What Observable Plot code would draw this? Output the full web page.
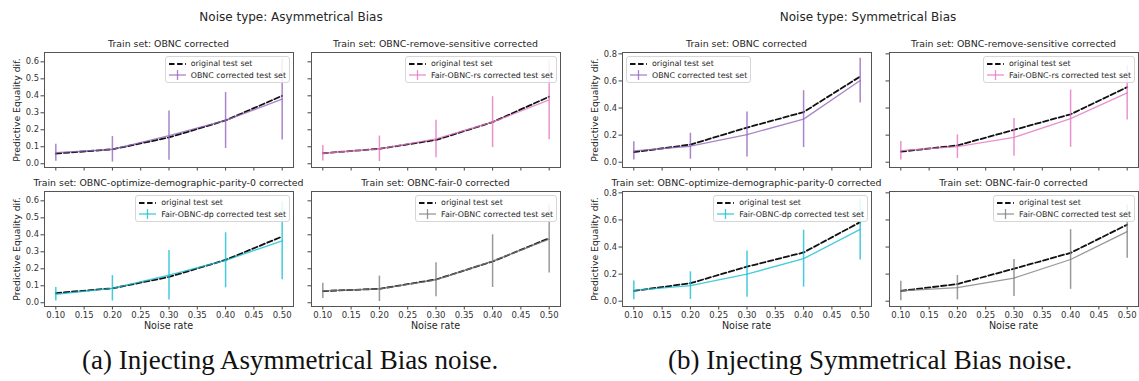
<!DOCTYPE html>
<html>
<head>
<meta charset="utf-8">
<script src="https://cdn.jsdelivr.net/npm/d3@7"></script>
<script src="https://cdn.jsdelivr.net/npm/@observablehq/plot@0.6"></script>
<style>
  body { margin: 0; background: #fff; }
  #root { position: relative; width: 1139px; height: 381px; overflow: hidden; font-family: "DejaVu Sans", sans-serif; color: #262626; }
  .abs { position: absolute; white-space: nowrap; }
  .legend { position: absolute; background: rgba(255,255,255,0.85); border: 1px solid #d6d6d6; border-radius: 3px; padding: 1px 3px 1px 3px; font-size: 7.9px; line-height: 11.5px; white-space: nowrap; }
  .legend .row { display: flex; align-items: center; }
  .legend svg { margin-right: 5px; }
  .cap { position: absolute; font-family: "Liberation Serif", "DejaVu Serif", serif; font-size: 27px; line-height: 27px; color: #111; white-space: nowrap; }
</style>
</head>
<body>
<div id="root"></div>
<script>
// ---------------- data ----------------
const noiseRates = [0.10, 0.20, 0.30, 0.40, 0.50];
const xTicks = [0.10, 0.15, 0.20, 0.25, 0.30, 0.35, 0.40, 0.45, 0.50];
const yTicksAsym = [0.0, 0.1, 0.2, 0.3, 0.4, 0.5, 0.6];
const yTicksSym = [0.0, 0.2, 0.4, 0.6, 0.8];

const groupTitles = ["Noise type: Asymmetrical Bias", "Noise type: Symmetrical Bias"];
const captions = ["(a) Injecting Asymmetrical Bias noise.", "(b) Injecting Symmetrical Bias noise."];
const panelTitles = [
  "Train set: OBNC corrected",
  "Train set: OBNC-remove-sensitive corrected",
  "Train set: OBNC-optimize-demographic-parity-0 corrected",
  "Train set: OBNC-fair-0 corrected"
];
const seriesNames = [
  "OBNC corrected test set",
  "Fair-OBNC-rs corrected test set",
  "Fair-OBNC-dp corrected test set",
  "Fair-OBNC corrected test set"
];
const originalName = "original test set";
const seriesColors = ["#9467bd", "#e377c2", "#17becf", "#7f7f7f"];

// Asymmetrical Bias
const origA_obnc = [0.060, 0.085, 0.155, 0.255, 0.400];
const corrA_obnc = [0.065, 0.085, 0.165, 0.255, 0.380];
const errA_obnc  = [0.050, 0.075, 0.145, 0.165, 0.240];
const origA_rs   = [0.062, 0.088, 0.140, 0.245, 0.395];
const corrA_rs   = [0.062, 0.088, 0.146, 0.245, 0.376];
const errA_rs    = [0.045, 0.075, 0.110, 0.150, 0.235];
const origA_dp   = [0.057, 0.085, 0.152, 0.252, 0.390];
const corrA_dp   = [0.050, 0.085, 0.162, 0.250, 0.365];
const errA_dp    = [0.040, 0.075, 0.146, 0.162, 0.230];
const origA_fair = [0.069, 0.082, 0.137, 0.243, 0.380];
const corrA_fair = [0.070, 0.082, 0.135, 0.245, 0.375];
const errA_fair  = [0.045, 0.075, 0.100, 0.155, 0.200];

// Symmetrical Bias
const origS_obnc = [0.074, 0.130, 0.256, 0.370, 0.633];
const corrS_obnc = [0.084, 0.118, 0.204, 0.318, 0.603];
const errS_obnc  = [0.068, 0.096, 0.166, 0.210, 0.165];
const origS_rs   = [0.078, 0.124, 0.239, 0.354, 0.554];
const corrS_rs   = [0.085, 0.115, 0.183, 0.322, 0.512];
const errS_rs    = [0.068, 0.087, 0.139, 0.212, 0.200];
const origS_dp   = [0.076, 0.133, 0.255, 0.360, 0.584];
const corrS_dp   = [0.080, 0.115, 0.200, 0.314, 0.530];
const errS_dp    = [0.070, 0.102, 0.170, 0.210, 0.225];
const origS_fair = [0.076, 0.127, 0.240, 0.357, 0.565];
const corrS_fair = [0.076, 0.100, 0.171, 0.308, 0.514];
const errS_fair  = [0.072, 0.090, 0.137, 0.220, 0.197];

// ---------------- layout ----------------
const root = document.getElementById("root");
const ML = 44, MR = 6, MT = 16, MB = 34;
const colLeft = [44, 311, 622, 889];
const frameW = 249;
const rowTop = [52, 191];
const frameH = 115;

const groups = [
  { yDomain: [-0.022, 0.655], yTicks: yTicksAsym, yFmt: ".1f",
    panels: [
      [origA_obnc, corrA_obnc, errA_obnc],
      [origA_rs, corrA_rs, errA_rs],
      [origA_dp, corrA_dp, errA_dp],
      [origA_fair, corrA_fair, errA_fair]
    ],
    legendPos: ["right", "right", "right", "right"] },
  { yDomain: [-0.039, 0.81], yTicks: yTicksSym, yFmt: ".1f",
    panels: [
      [origS_obnc, corrS_obnc, errS_obnc],
      [origS_rs, corrS_rs, errS_rs],
      [origS_dp, corrS_dp, errS_dp],
      [origS_fair, corrS_fair, errS_fair]
    ],
    legendPos: ["left", "right", "right", "right"] }
];

function addDiv(cls, text, style) {
  const d = document.createElement("div");
  d.className = cls;
  if (text != null) d.textContent = text;
  Object.assign(d.style, style);
  root.appendChild(d);
  return d;
}

groups.forEach((g, gi) => {
  g.panels.forEach((p, pi) => {
    const row = Math.floor(pi / 2), col = gi * 2 + (pi % 2);
    const fx = colLeft[col], fy = rowTop[row];
    const [orig, corr, err] = p;
    const data = noiseRates.map((x, i) => ({ x, orig: orig[i], corr: corr[i], err: err[i] }));
    const color = seriesColors[pi];
    const showXLabels = row === 1;
    const showYLabels = pi % 2 === 0;

    const chart = Plot.plot({
      width: ML + frameW + MR,
      height: MT + frameH + MB,
      marginLeft: ML, marginRight: MR, marginTop: MT, marginBottom: MB,
      style: { fontFamily: "DejaVu Sans, sans-serif", background: "transparent", overflow: "visible" },
      x: { domain: [0.08, 0.52] },
      y: { domain: g.yDomain },
      marks: [
        Plot.axisX({ ticks: xTicks, tickSize: 3.5, tickPadding: 1.5, fontSize: 8.5, stroke: "#444", fill: "#333",
          tickFormat: showXLabels ? d3.format(".2f") : () => "", label: null }),
        Plot.axisY({ ticks: g.yTicks, tickSize: 3.5, tickPadding: 2, fontSize: 8.3, stroke: "#444", fill: "#333",
          tickFormat: showYLabels ? d3.format(g.yFmt) : () => "", label: null }),
        Plot.line(data, { x: "x", y: "orig", stroke: "#111", strokeWidth: 1.8, strokeDasharray: "5.5,2.6" }),
        Plot.line(data, { x: "x", y: "corr", stroke: color, strokeOpacity: 0.8, strokeWidth: 1.3 }),
        Plot.ruleX(data, { x: "x", y1: d => d.corr - d.err, y2: d => d.corr + d.err, stroke: color, strokeOpacity: 0.8, strokeWidth: 1.5 }),
        Plot.frame({ stroke: "#555", strokeWidth: 1 })
      ]
    });
    chart.style.position = "absolute";
    chart.style.left = (fx - ML) + "px";
    chart.style.top = (fy - MT) + "px";
    root.appendChild(chart);

    // panel title
    addDiv("abs", panelTitles[pi], { left: (fx + frameW / 2) + "px", top: (fy - 14) + "px", transform: "translateX(-50%)", fontSize: "9.4px", lineHeight: "12px" });
    // x label
    if (showXLabels) addDiv("abs", "Noise rate", { left: (fx + frameW / 2) + "px", top: (fy + frameH + 14) + "px", transform: "translateX(-50%)", fontSize: "9.6px", lineHeight: "12px" });
    // y label
    if (showYLabels) addDiv("abs", "Predictive Equality dif.", { left: (fx - 27) + "px", top: (fy + frameH / 2) + "px", transform: "translate(-50%,-50%) rotate(-90deg)", fontSize: "9.3px", lineHeight: "12px" });

    // legend
    const lg = addDiv("legend", null, { top: (fy + 4) + "px" });
    if (g.legendPos[pi] === "right") lg.style.right = (1139 - (fx + frameW) + 3) + "px";
    else lg.style.left = (fx + 4) + "px";
    const r1 = document.createElement("div"); r1.className = "row";
    r1.innerHTML = `<svg width="17" height="10"><line x1="0" y1="5" x2="17" y2="5" stroke="#111" stroke-width="1.8" stroke-dasharray="5.5,2.6"/></svg><span></span>`;
    r1.querySelector("span").textContent = originalName;
    const r2 = document.createElement("div"); r2.className = "row";
    r2.innerHTML = `<svg width="17" height="10"><line x1="0" y1="5" x2="17" y2="5" stroke="${color}" stroke-opacity="0.8" stroke-width="1.3"/><line x1="8.5" y1="0" x2="8.5" y2="10" stroke="${color}" stroke-opacity="0.8" stroke-width="1.3"/></svg><span></span>`;
    r2.querySelector("span").textContent = seriesNames[pi];
    lg.appendChild(r1); lg.appendChild(r2);
  });
});

// group titles
addDiv("abs", groupTitles[0], { left: "291px", top: "10px", transform: "translateX(-50%)", fontSize: "12px", lineHeight: "14px" });
addDiv("abs", groupTitles[1], { left: "868px", top: "10px", transform: "translateX(-50%)", fontSize: "12px", lineHeight: "14px" });

// captions
addDiv("cap", captions[0], { left: "82px", top: "347px" });
addDiv("cap", captions[1], { left: "668px", top: "347px" });
</script>
</body>
</html>
